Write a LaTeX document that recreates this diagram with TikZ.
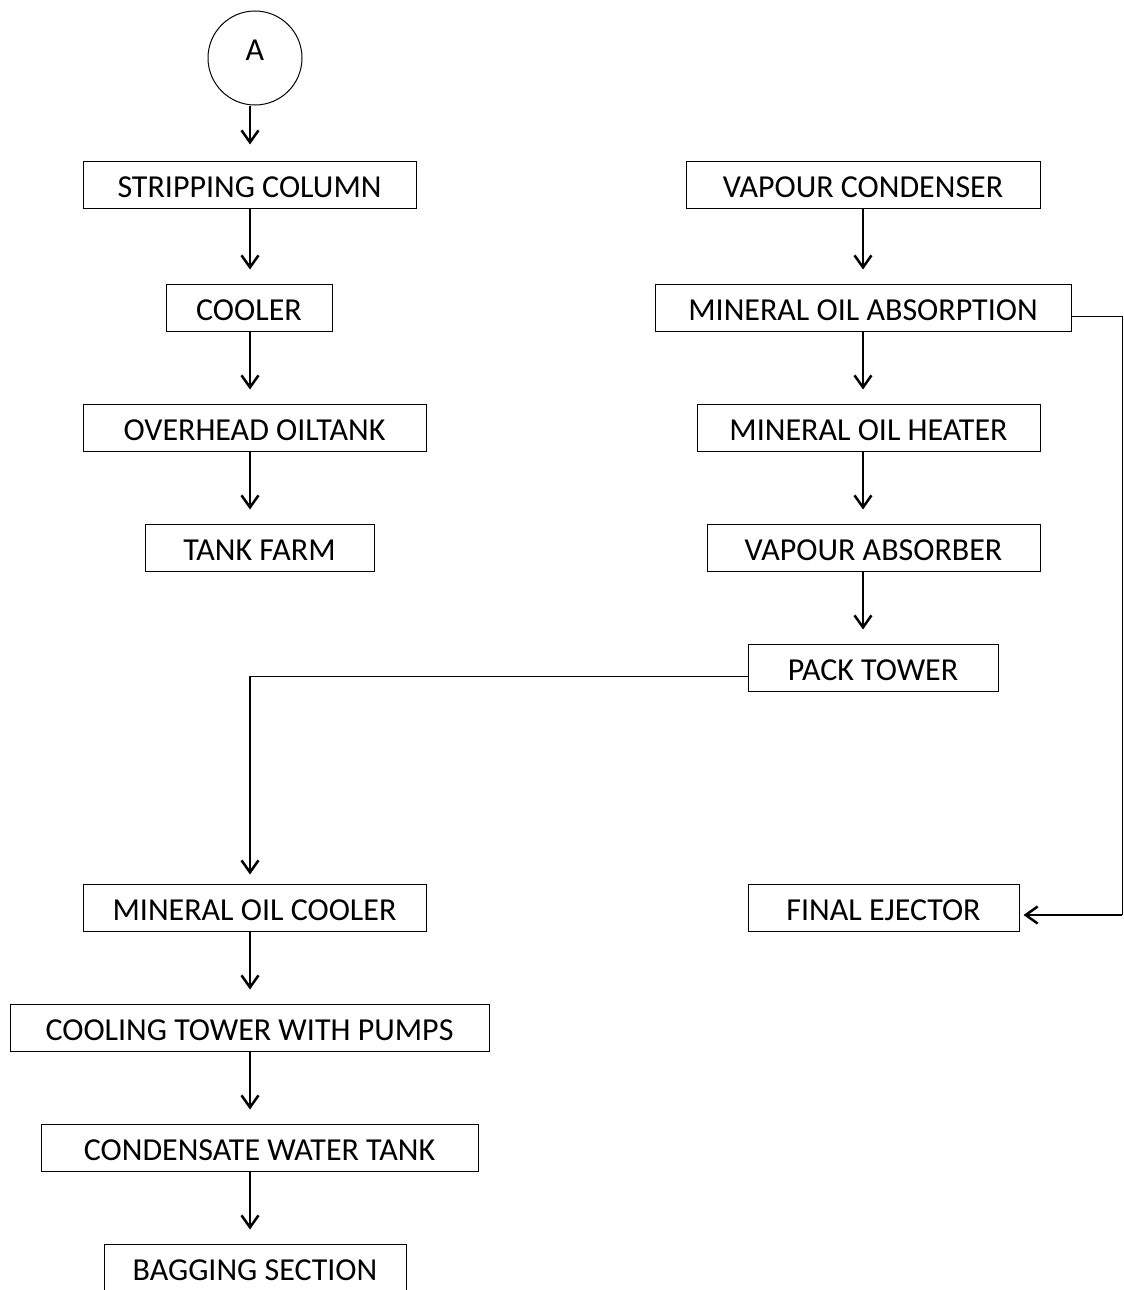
\documentclass[tikz,border=0pt]{standalone}
\usepackage{fontspec}
\setmainfont{Carlito}
\usepackage{tikz}
\usetikzlibrary{arrows.meta,positioning,calc}

\begin{document}
\begin{tikzpicture}[x=1pt, y=-1pt, font=\fontsize{32}{38}\selectfont,
  >={Straight Barb[length=12pt,width=17pt]},
  unitbox/.style={draw, line width=1pt, inner sep=0pt, minimum height=47pt,
    text height=25.6pt, text depth=0pt},
  flow/.style={->, line width=2.5pt},
  pipe/.style={line width=1pt}]
\clip (0,0) rectangle (1124,1290);
% start marker
\node[draw, circle, line width=1pt, minimum size=94pt, inner sep=0pt,
  text height=20.6pt, text depth=16pt] (A) at (255,58) {A};
\coordinate (lcol) at (250,0);
\coordinate (rcol) at (863,0);
% process units
\foreach \nm/\x/\y/\w/\lbl in {
  strip/249.5/184.5/333/STRIPPING COLUMN,
  cooler/249/307.5/166/COOLER,
  ohtank/254.5/427.5/343/OVERHEAD OILTANK,
  farm/259.5/547.5/229/TANK FARM,
  vcond/863/184.5/354/VAPOUR CONDENSER,
  moabs/863/307.5/416/MINERAL OIL ABSORPTION,
  moheat/868.5/427.5/343/MINERAL OIL HEATER,
  vabs/873.5/547.5/333/VAPOUR ABSORBER,
  pack/873/667.5/250/PACK TOWER,
  mocool/254.5/907.5/343/MINERAL OIL COOLER,
  ejector/883.5/907.5/271/FINAL EJECTOR,
  ctower/249.5/1027.5/479/COOLING TOWER WITH PUMPS,
  cwtank/259.5/1147.5/437/CONDENSATE WATER TANK,
  bagging/255/1267.5/302/BAGGING SECTION}{
  \node[unitbox, minimum width=\w pt] (\nm) at (\x,\y) {\lbl};
}
% vertical flows, left column
\draw[flow, shorten >=16pt] (A.south -| lcol) -- (strip.north -| lcol);
\foreach \a/\b in {strip/cooler, cooler/ohtank, ohtank/farm,
  mocool/ctower, ctower/cwtank, cwtank/bagging}{
  \draw[flow, shorten >=14pt] (\a.south -| lcol) -- (\b.north -| lcol);
}
% vertical flows, right column
\foreach \a/\b in {vcond/moabs, moabs/moheat, moheat/vabs, vabs/pack}{
  \draw[flow, shorten >=14pt] (\a.south -| rcol) -- (\b.north -| rcol);
}
% pack tower to mineral oil cooler
\coordinate (lbend) at (250,676);
\draw[pipe] ([yshift=-8.5pt]pack.west) -- (lbend);
\draw[flow, shorten >=9pt] (lbend) -- (mocool.north -| lbend);
% absorption to final ejector
\coordinate (rbend) at (1122,915);
\draw[pipe] ([yshift=-8.5pt]moabs.east) -| (rbend);
\draw[flow, shorten >=4pt] (rbend) -- ([yshift=-7.5pt]ejector.east);
\end{tikzpicture}
\end{document}
